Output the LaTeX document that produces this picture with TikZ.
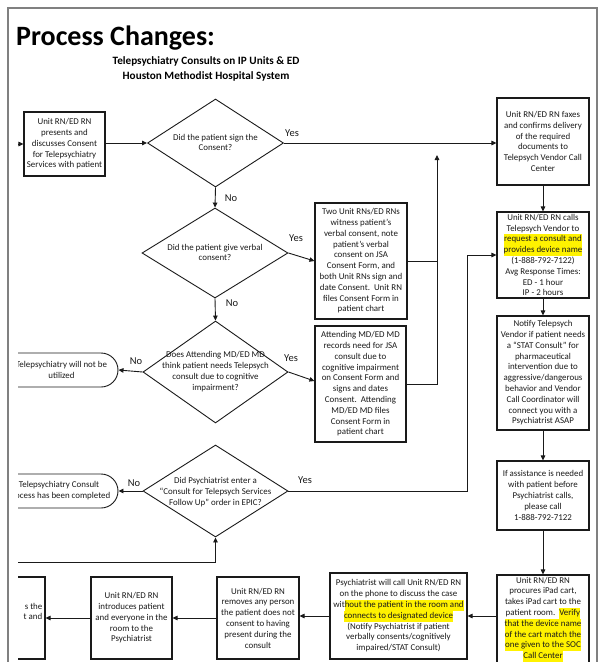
\documentclass[tikz,border=0pt]{standalone}
\usepackage{fontspec}
\setmainfont{Carlito}
\usetikzlibrary{arrows.meta,shapes.geometric,shapes.misc}
\definecolor{hly}{HTML}{FFF200}
\definecolor{framec}{HTML}{808080}
\definecolor{ink}{HTML}{1A1A1A}
\newcommand\boxfont{\fontsize{8.9}{10.8}\selectfont}
\newcommand\hlt[1]{{\setlength{\fboxsep}{0pt}\colorbox{hly}{\strut #1}}}
\tikzset{
  box/.style={draw=ink, line width=1.1pt, inner sep=0pt, align=center, font=\boxfont, text=ink},
  dia/.style={diamond, draw=ink, line width=0.9pt, inner sep=0pt},
  dtext/.style={align=center, font=\boxfont, text=ink, inner sep=0pt},
  term/.style={rounded rectangle, rounded rectangle left arc=none, draw=ink, line width=0.9pt, inner sep=0pt, minimum width=113, minimum height=34},
  arr/.style={-{Triangle[length=5pt,width=4.5pt]}, line width=0.9pt, draw=ink},
  plain/.style={line width=0.9pt, draw=ink},
  lab/.style={font=\fontsize{10.5}{12}\selectfont, text=ink, inner sep=0pt}
}
\begin{document}
\begin{tikzpicture}[x=1pt,y=-1pt]
\useasboundingbox (0,0) rectangle (600,662);
\fill[white] (0,0) rectangle (600,662);
% frame
\draw[framec, line width=1.5pt] (8,700) -- (8,8) -- (597,8) -- (597,700);
% titles
\node[anchor=base west, font=\fontsize{28}{33}\selectfont\bfseries, inner sep=0pt] (title) at (16,45) {Process Changes:};
\node[align=center, font=\fontsize{11.2}{15}\selectfont\bfseries, inner sep=0pt] (sub) at (206,69) {Telepsychiatry Consults on IP Units \& ED\\Houston Methodist Hospital System};

\begin{scope}
\clip (18,0) rectangle (600,662);
% start box
\node[box, minimum width=81, minimum height=64] (start) at (64.5,144) {Unit RN/ED RN\\presents and\\discusses Consent\\for Telepsychiatry\\Services with patient};
\coordinate (entry) at (16,144);
% diamonds
\node[dia, minimum width=136, minimum height=88] (d1) at (215.5,143) {};
\node[dtext] (d1t) at (215.5,142.5) {Did the patient sign the\\Consent?};
\node[dia, minimum width=146, minimum height=90] (d2) at (215,253) {};
\node[dtext] (d2t) at (215,252.5) {Did the patient give verbal\\consent?};
\node[dia, minimum width=145, minimum height=102] (d3) at (215.5,372) {};
\node[dtext] (d3t) at (215.5,371.5) {Does Attending MD/ED MD\\think patient needs Telepsych\\consult due to cognitive\\impairment?};
\node[dia, minimum width=145, minimum height=92] (d4) at (215.5,491) {};
\node[dtext] (d4t) at (215.5,492) {Did Psychiatrist enter a\\“Consult for Telepsych Services\\Follow Up” order in EPIC?};
% terminals
\node[term] (t1) at (61.5,370) {};
\node[dtext] (t1t) at (61.5,370) {Telepsychiatry will not be\\utilized};
\node[term] (t2) at (61.5,491) {};
\node[dtext] (t2t) at (59,491) {Telepsychiatry Consult\\Process has been completed};
% middle boxes
\node[box, minimum width=92, minimum height=116] (verbal) at (361,261) {Two Unit RNs/ED RNs\\witness patient’s\\verbal consent, note\\patient’s verbal\\consent on JSA\\Consent Form, and\\both Unit RNs sign and\\date Consent.\ \ Unit RN\\files Consent Form in\\patient chart};
\node[box, minimum width=91, minimum height=116] (cogn) at (360.5,384) {Attending MD/ED MD\\records need for JSA\\consult due to\\cognitive impairment\\on Consent Form and\\signs and dates\\Consent.\ \ Attending\\MD/ED MD files\\Consent Form in\\patient chart};
% right column
\node[box, minimum width=92, minimum height=87] (fax) at (543,141.5) {Unit RN/ED RN faxes\\and confirms delivery\\of the required\\documents to\\Telepsych Vendor Call\\Center};
\node[box, minimum width=92, minimum height=86] (calls) at (543,255) {Unit RN/ED RN calls\\Telepsych Vendor to\\\hlt{request a consult and}\\\hlt{provides device name}\\(1-888-792-7122)\\Avg Response Times:\\ED - 1 hour\\IP - 2 hours};
\node[box, minimum width=92, minimum height=114] (notify) at (543,373) {Notify Telepsych\\Vendor if patient needs\\a “STAT Consult” for\\pharmaceutical\\intervention due to\\aggressive/dangerous\\behavior and Vendor\\Call Coordinator will\\connect you with a\\Psychiatrist ASAP};
\node[box, minimum width=92, minimum height=69] (assist) at (543,495.5) {If assistance is needed\\with patient before\\Psychiatrist calls,\\please call\\1-888-792-7122};
\node[box, minimum width=92, minimum height=89] (procure) at (543,619.5) {Unit RN/ED RN\\procures iPad cart,\\takes iPad cart to the\\patient room.\ \ \hlt{Verify}\\\hlt{that the device name}\\\hlt{of the cart match the}\\\hlt{one given to the SOC}\\\hlt{Call Center}};
% bottom row
\node[box, minimum width=137, minimum height=86] (psych) at (398.5,616) {Psychiatrist will call Unit RN/ED RN\\on the phone to discuss the case\\wit\hlt{hout the patient in the room and}\\\hlt{connects to designated device}\\(Notify Psychiatrist if patient\\verbally consents/cognitively\\impaired/STAT Consult)};
\node[box, minimum width=82, minimum height=82] (remove) at (258,618) {Unit RN/ED RN\\removes any person\\the patient does not\\consent to having\\present during the\\consult};
\node[box, minimum width=81, minimum height=82] (intro) at (131.5,618) {Unit RN/ED RN\\introduces patient\\and everyone in the\\room to the\\Psychiatrist};
\node[box, minimum width=82, minimum height=82] (pbox) at (4,618) {};
\node[dtext, anchor=east, align=right] (pboxt) at ([xshift=-3pt,yshift=6.5pt]pbox.east) {s the\\t and};
% connectors
\draw[arr] (entry) -- (start.west);
\draw[arr] (start.east |- d1.west) -- (d1.west);
\draw[arr] (d1.east) -- (d1.east -| fax.west);
\draw[arr] (d1.south) -- (d2.north);
\draw[arr] (d2.south) -- (d3.north);
\draw[arr] (d2.east) -- (verbal.west);
\draw[arr] (d3.east) -- ([yshift=3pt]cogn.west);
\draw[arr] (d3.west) -- (t1.east);
\draw[arr] (d4.west) -- (t2.east);
\coordinate (up) at (437,155);
\draw[plain] (verbal.east) -- (verbal.east -| up);
\draw[arr] (cogn.east) -| (up);
\coordinate (rx) at (467,0);
\draw[arr] (d4.east) -- (d4.east -| rx) |- (calls.west);
\draw[arr] (fax.south) -- (calls.north);
\draw[arr] (calls.south) -- (notify.north);
\draw[arr] (notify.south) -- (assist.north);
\draw[arr] (assist.south) -- (procure.north);
\draw[arr] (psych.east -| procure.west) -- (psych.east);
\draw[arr] (psych.west) -- (psych.west -| remove.east);
\draw[arr] (remove.west) -- (intro.east);
\draw[arr] (intro.west) -- (intro.west -| pbox.east);
\coordinate (loop) at (10,562);
\draw[arr] (loop) -- (loop -| d4.south) -- (d4.south);
% labels
\node[lab] (y1) at (292,133) {Yes};
\node[lab] (n1) at (231,198) {No};
\node[lab] (y2) at (296,238) {Yes};
\node[lab] (n2) at (232,303) {No};
\node[lab] (n3) at (136,361) {No};
\node[lab] (y3) at (291,358) {Yes};
\node[lab] (n4) at (134,483) {No};
\node[lab] (y4) at (305,480) {Yes};
\end{scope}
\end{tikzpicture}
\end{document}
